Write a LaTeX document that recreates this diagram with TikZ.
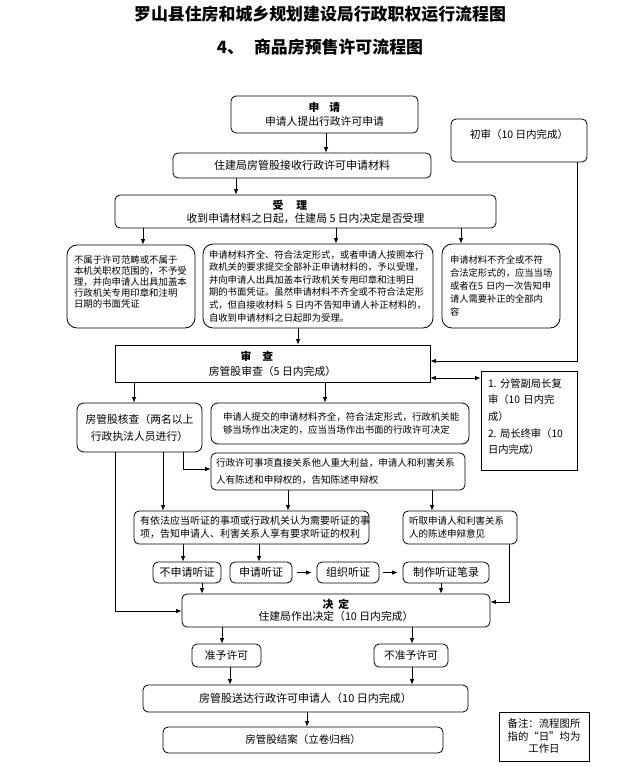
\documentclass[tikz,border=0pt]{standalone}
\usepackage{fontspec}
\setmainfont{Noto Sans CJK SC}
\usetikzlibrary{arrows.meta}
\newcommand\fsz[2]{\fontsize{#1pt}{#2pt}\selectfont}
\tikzset{
  rbox/.style={draw=black, line width=0.8pt, rounded corners=5pt, inner sep=0pt, align=center},
  midbox/.style={rbox, rounded corners=7pt},
  bigbox/.style={rbox, rounded corners=10pt},
  sbox/.style={draw=black, line width=0.8pt, inner sep=0pt, align=center},
  arr/.style={line width=0.75pt, -{Latex[length=5.5pt,width=4.5pt]}},
  dblarr/.style={line width=0.75pt, {Latex[length=5.5pt,width=4.5pt]}-{Latex[length=5.5pt,width=4.5pt]}},
}
\begin{document}
\begin{tikzpicture}[x=1pt,y=-1pt]
\fill[white] (0,0) rectangle (618,767);
\useasboundingbox (0,0) rectangle (618,767);
% titles
\node[font=\fsz{16.9}{20}\bfseries] (t1) at (320,14) {罗山县住房和城乡规划建设局行政职权运行流程图};
\node[font=\fsz{16.9}{20}\bfseries] (t2) at (320,47) {4、\hspace{10pt}商品房预售许可流程图};
% boxes
\node[rbox, minimum width=187pt, minimum height=37pt, font=\fsz{10.8}{14}] (sq) at (324.5,114.5) {\textbf{申\hspace{10pt}请}\\申请人提出行政许可申请};
\node[rbox, minimum width=258pt, minimum height=25pt, font=\fsz{11}{13}] (js) at (302,165.5) {住建局房管股接收行政许可申请材料};
\node[rbox, minimum width=381pt, minimum height=33pt, font=\fsz{10.8}{13}] (sl) at (305.5,211.5) {\textbf{受\hspace{13pt}理}\hspace*{31pt}\\收到申请材料之日起，住建局 5 日内决定是否受理};
\node[rbox, minimum width=136pt, minimum height=43pt, font=\fsz{10.5}{13}] (cs) at (519,140.5) {初审（10 日内完成）\\ \mbox{}};
\node[bigbox, minimum width=128pt, minimum height=83pt, text width=114pt, align=left, font=\fsz{9.4}{10.8}] (L1) at (131,286.5) {不属于许可范畴或不属于\\本机关职权范围的，不予受\\理，并向申请人出具加盖本\\行政机关专用印章和注明\\日期的书面凭证\\[-1pt]\mbox{}};
\node[bigbox, minimum width=230pt, minimum height=84pt, text width=218pt, align=left, font=\fsz{9.35}{12.6}] (M1) at (318,286) {申请材料齐全、符合法定形式，或者申请人按照本行\\政机关的要求提交全部补正申请材料的，予以受理，\\并向申请人出具加盖本行政机关专用印章和注明日\\期的书面凭证。虽然申请材料不齐全或不符合法定形\\式，但自接收材料~5~日内不告知申请人补正材料的，\\自收到申请材料之日起即为受理。};
\node[bigbox, minimum width=118pt, minimum height=84pt, text width=102pt, align=left, font=\fsz{9.3}{12.8}] (R1) at (501,286) {申请材料不齐全或不符\\合法定形式的，应当当场\\或者在5~日内一次告知申\\请人需要补正的全部内\\容};
\node[sbox, minimum width=315pt, minimum height=37pt, font=\fsz{10.8}{15}] (sc) at (272.5,363.5) {\textbf{审\hspace{11pt}查}\hspace*{31pt}\\房管股审查（5 日内完成）};
\node[sbox, minimum width=96pt, minimum height=99pt, text width=82pt, align=left, font=\fsz{10.3}{16.7}] (fg) at (529,420.5) {1.~分管副局长复\\审（10~日内完\\成）\\2.~局长终审（10\\日内完成）\\[-8pt]\mbox{}};
\node[midbox, minimum width=125pt, minimum height=49pt, font=\fsz{10.8}{17}] (hc) at (139.5,427.5) {房管股核查（两名以上\\行政执法人员进行）};
\node[midbox, minimum width=258pt, minimum height=41pt, text width=234pt, align=left, font=\fsz{9.45}{13}] (dc) at (340,423.5) {申请人提交的申请材料齐全，符合法定形式，行政机关能\\够当场作出决定的，应当当场作出书面的行政许可决定};
\node[rbox, minimum width=254pt, minimum height=37pt, text width=244pt, align=left, font=\fsz{9.55}{17}] (xz) at (338,471.5) {行政许可事项直接关系他人重大利益，申请人和利害关系\\人有陈述和申辩权的，告知陈述申辩权};
\node[rbox, minimum width=235pt, minimum height=33pt, text width=223pt, align=left, font=\fsz{10}{13}] (yf) at (251.5,527.5) {有依法应当听证的事项或行政机关认为需要听证的事\\项，告知申请人、利害关系人享有要求听证的权利};
\node[rbox, minimum width=114pt, minimum height=33pt, text width=102pt, align=left, font=\fsz{9.5}{13}] (tq) at (460,527.5) {听取申请人和利害关系\\人的陈述申辩意见};
\node[rbox, minimum width=68pt, minimum height=21pt, font=\fsz{11}{13}] (bsq) at (187,572.5) {不申请听证};
\node[rbox, minimum width=62pt, minimum height=21pt, font=\fsz{11}{13}] (sqt) at (261,572.5) {申请听证};
\node[rbox, minimum width=62pt, minimum height=21pt, font=\fsz{11}{13}] (zz) at (348,572.5) {组织听证};
\node[rbox, minimum width=86pt, minimum height=21pt, font=\fsz{11}{13}] (zb) at (446,572.5) {制作听证笔录};
\node[rbox, minimum width=308pt, minimum height=33pt, font=\fsz{10.8}{12.5}] (jd) at (336,610.5) {\textbf{决\hspace{5pt}定}\\住建局作出决定（10 日内完成）};
\node[rbox, minimum width=69pt, minimum height=23pt, font=\fsz{10.8}{13}] (zy) at (226.5,655.5) {准予许可};
\node[rbox, minimum width=74pt, minimum height=23pt, font=\fsz{10.8}{13}] (bzy) at (411,655.5) {不准予许可};
\node[rbox, minimum width=325pt, minimum height=27pt, font=\fsz{11}{13}] (sd) at (305.5,698.5) {房管股送达行政许可申请人（10 日内完成）};
\node[rbox, minimum width=280pt, minimum height=26pt, font=\fsz{10.5}{13}] (ja) at (303,740) {房管股结案（立卷归档）};
\node[sbox, minimum width=90pt, minimum height=49pt, font=\fsz{10.4}{12.5}] (bz) at (544,736.5) {备注：流程图所\\指的“日”均为\\工作日};
% connectors
\draw[arr] ([xshift=1.5pt]sq.south) -- ([xshift=24pt]js.north);
\draw[arr] ([xshift=-66pt]js.south) -- ([xshift=-69.5pt]sl.north);
\draw[arr] ([xshift=-162.5pt]sl.south) -- ([xshift=12pt]L1.north);
\draw[arr] ([xshift=30.5pt]sl.south) -- ([xshift=18pt]M1.north);
\draw[arr] ([xshift=155.5pt]sl.south) -- ([xshift=-40pt]R1.north);
\draw[arr] ([xshift=58pt]cs.south) |- ([yshift=2.5pt]sc.east);
\draw[arr] ([xshift=-20pt]M1.south) -- ([xshift=25.5pt]sc.north);
\draw[dblarr] ([yshift=-14.5pt]sc.east) -- ([yshift=42.5pt]fg.west);
\draw[arr] ([xshift=-138.5pt]sc.south) -- ([xshift=-5.5pt]hc.north);
\draw[arr] ([xshift=52.5pt]sc.south) -- ([xshift=-15pt]dc.north);
\draw[arr] ([xshift=-24.5pt]hc.south) |- ([yshift=-0.5pt]jd.west);
\draw[arr] ([xshift=23.5pt]hc.south) -- ([xshift=-88.5pt]yf.north);
\draw[arr] ([xshift=43.5pt]hc.south) |- ([yshift=2.5pt]xz.west);
\draw[arr] ([xshift=-50pt]xz.south) -- ([xshift=36.5pt]yf.north);
\draw[arr] ([xshift=94pt]xz.south) -- ([xshift=-28pt]tq.north);
\draw[arr] ([xshift=-68.5pt]yf.south) -- ([xshift=-4pt]bsq.north);
\draw[arr] ([xshift=7.5pt]yf.south) -- ([xshift=-2pt]sqt.north);
\draw[arr, shorten <=5pt, shorten >=5pt] (sqt.east) -- (zz.west);
\draw[arr, shorten <=4pt, shorten >=5pt] (zz.east) -- (zb.west);
\draw[arr] ([xshift=15pt]bsq.south) -- ([xshift=-134pt]jd.north);
\draw[arr] ([xshift=-5pt]zb.south) -- ([xshift=105pt]jd.north);
\draw[arr] ([xshift=49pt]tq.south) |- ([yshift=8.5pt]jd.east);
\draw[arr] ([xshift=-114pt]jd.south) -- ([xshift=-4.5pt]zy.north);
\draw[arr] ([xshift=76pt]jd.south) -- ([xshift=1pt]bzy.north);
\draw[arr] ([xshift=3.5pt]zy.south) -- ([xshift=-75.5pt]sd.north);
\draw[arr] ([xshift=1pt]bzy.south) -- ([xshift=106.5pt]sd.north);
\draw[arr] ([xshift=1.5pt]sd.south) -- ([xshift=4pt]ja.north);
\end{tikzpicture}
\end{document}
